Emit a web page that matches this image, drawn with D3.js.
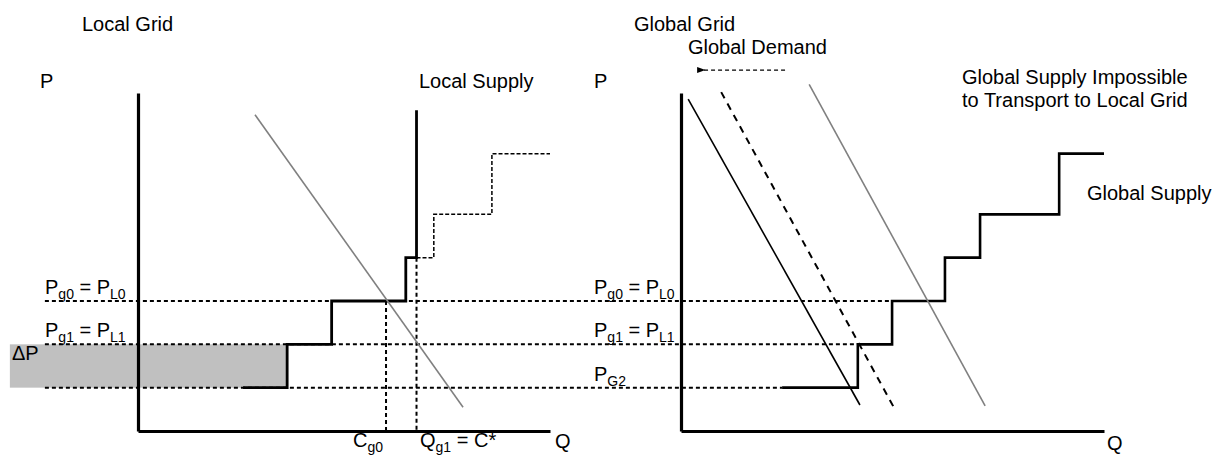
<!DOCTYPE html>
<html>
<head>
<meta charset="utf-8">
<script src="https://cdn.jsdelivr.net/npm/d3@7"></script>
<style>
  body { margin: 0; background: #fff; }
  text { font-family: "Liberation Sans", Arial, sans-serif; font-size: 20px; fill: #000; }
</style>
</head>
<body>
<div id="chart"></div>
<script>
// price levels (P units): Pg0 = PL0, Pg1 = PL1, PG2
var priceLevels = [30, 20, 10];
var priceLabels = [["P", "g0", " = P", "L0"], ["P", "g1", " = P", "L1"], ["P", "G2"]];

// local grid: supply steps [q, p], dashed continuation, demand line
var localSupply = [[25.5, 10], [36.2, 20], [47, 30], [65, 40], [67.6, 74]];
var localSupplyCut = [[67.6, 40], [71.8, 50], [85.9, 64], [100, 64]];
var localDemand = [[28.4, 73], [78.9, 5.5]];
var localMarkers = [60.2, 67.6];   // Cg0, Qg1 = C*
var deltaP = [-31.1, 36.2];        // shaded band q-range, between P 10 and 20

// global grid
var globalSupply = [[23.9, 10], [41.8, 20], [49.9, 30], [62.4, 40], [70.7, 50], [89.4, 64], [100, 64]];
var globalDemandNew = [[1.7, 76.6], [42.3, 6]];
var globalDemandOld = [[9.5, 78.2], [50.4, 5.3]];
var globalSupplyFar = [[30.3, 80], [71.9, 5.8]];
var shiftArrow = [[24.6, 83.3], [5.4, 83.3]];
var dashedEnds = [49.9, 41.8, 23.9];  // where the price lines stop on the global grid

var W = 1226, H = 455;
var svg = d3.select("#chart").append("svg").attr("width", W).attr("height", H);

var y = d3.scaleLinear().domain([0, 78]).range([431, 93]);
var xL = d3.scaleLinear().domain([0, 100]).range([138, 550]);
var xR = d3.scaleLinear().domain([0, 100]).range([681, 1104]);

var defs = svg.append("defs");
defs.append("marker").attr("id", "arrow")
  .attr("viewBox", "0 0 10 10").attr("refX", 2).attr("refY", 5)
  .attr("markerWidth", 7).attr("markerHeight", 7).attr("orient", "auto")
  .append("path").attr("d", "M10,1.5 L0,5 L10,8.5 Z").attr("fill", "#000");

var line = function(sx) {
  return d3.line().x(d => sx(d[0])).y(d => y(d[1]));
};

// --- shaded delta P band ---
svg.append("rect")
  .attr("x", xL(deltaP[0]))
  .attr("y", y(priceLevels[1]))
  .attr("width", xL(deltaP[1]) - xL(deltaP[0]))
  .attr("height", y(priceLevels[2]) - y(priceLevels[1]))
  .attr("fill", "#c0c0c0");

// --- dashed price lines across both panels ---
priceLevels.forEach(function(p, i) {
  svg.append("line")
    .attr("x1", xL(-22.6)).attr("x2", xR(dashedEnds[i]))
    .attr("y1", y(p)).attr("y2", y(p))
    .attr("stroke", "#000").attr("stroke-width", 2).attr("stroke-dasharray", "4,3");
});

// vertical dotted markers in the local grid
var markerTops = [priceLevels[0], 40];
localMarkers.forEach(function(q, i) {
  svg.append("line")
    .attr("x1", xL(q)).attr("x2", xL(q))
    .attr("y1", y(markerTops[i])).attr("y2", y(0))
    .attr("stroke", "#000").attr("stroke-width", 2).attr("stroke-dasharray", "4,3");
});

// --- axes ---
[xL, xR].forEach(function(sx) {
  var gy = svg.append("g").attr("transform", `translate(${sx(0)},0)`)
    .call(d3.axisLeft(y).tickValues([]).tickSizeOuter(0));
  var gx = svg.append("g").attr("transform", `translate(0,${y(0)})`)
    .call(d3.axisBottom(sx).tickValues([]).tickSizeOuter(0));
  [gy, gx].forEach(g => g.select(".domain").attr("stroke", "#000").attr("stroke-width", 3.2));
});

// --- local grid curves ---
svg.append("path").attr("d", line(xL).curve(d3.curveStepAfter)(localSupplyCut))
  .attr("fill", "none").attr("stroke", "#000").attr("stroke-width", 1.5).attr("stroke-dasharray", "4,2");
svg.append("path").attr("d", line(xL).curve(d3.curveStepAfter)(localSupply))
  .attr("fill", "none").attr("stroke", "#000").attr("stroke-width", 2.8);
svg.append("path").attr("d", line(xL)(localDemand))
  .attr("fill", "none").attr("stroke", "#808080").attr("stroke-width", 1.6);

// --- global grid curves ---
svg.append("path").attr("d", line(xR).curve(d3.curveStepAfter)(globalSupply))
  .attr("fill", "none").attr("stroke", "#000").attr("stroke-width", 2.6);
svg.append("path").attr("d", line(xR)(globalDemandNew))
  .attr("fill", "none").attr("stroke", "#000").attr("stroke-width", 1.6);
svg.append("path").attr("d", line(xR)(globalDemandOld))
  .attr("fill", "none").attr("stroke", "#000").attr("stroke-width", 2).attr("stroke-dasharray", "7,6");
svg.append("path").attr("d", line(xR)(globalSupplyFar))
  .attr("fill", "none").attr("stroke", "#808080").attr("stroke-width", 1.6);
svg.append("path").attr("d", line(xR)(shiftArrow))
  .attr("fill", "none").attr("stroke", "#000").attr("stroke-width", 1.2)
  .attr("stroke-dasharray", "4,3").attr("marker-end", "url(#arrow)");

// --- labels ---
var label = function(x, yy, parts) {
  var t = svg.append("text").attr("x", x).attr("y", yy);
  parts.forEach(function(s, i) {
    var sub = i % 2 === 1;
    t.append("tspan").text(s)
      .attr("font-size", sub ? 14 : 20)
      .attr("dy", i === 0 ? 0 : (sub ? 5 : -5));
  });
  return t;
};

label(82, 31, ["Local Grid"]);
label(40, 88, ["P"]);
label(419, 88, ["Local Supply"]);
label(634, 31, ["Global Grid"]);
label(688, 54, ["Global Demand"]);
label(594, 88, ["P"]);
label(962, 84, ["Global Supply Impossible"]);
label(962, 107, ["to Transport to Local Grid"]);
label(1087, 200, ["Global Supply"]);
label(12, 360, ["\u0394P"]);

priceLevels.forEach(function(p, i) {
  if (i < 2) label(45, y(p) - 7, priceLabels[i]);
  label(594, y(p) - 7, priceLabels[i]);
});

label(353, 447, ["C", "g0"]);
label(420, 447, ["Q", "g1", " = C*"]);
label(555, 448, ["Q"]);
label(1107, 450, ["Q"]);
</script>
</body>
</html>
